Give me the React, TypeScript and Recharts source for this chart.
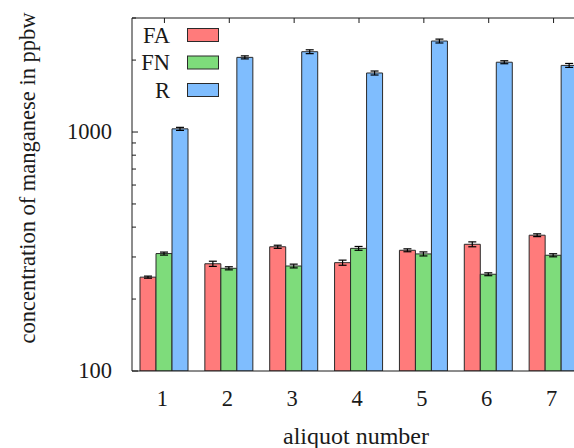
import { BarChart, Bar, XAxis, YAxis, ErrorBar, Legend } from "recharts"

const aliquots = ["1", "2", "3", "4", "5", "6", "7"]
const fa = [247, 281, 331, 284, 320, 339, 370]
const faErr = [2.5, 7, 5, 7, 4.5, 8, 5]
const fn = [310, 269, 275, 326, 309, 254, 305]
const fnErr = [4.5, 4, 5, 6, 6, 3.5, 4.5]
const r = [1031, 2053, 2168, 1766, 2403, 1959, 1900]
const rErr = [15, 30, 40, 34, 45, 28, 36]

const yTicks = [100, 200, 300, 400, 500, 600, 700, 800, 900, 1000, 2000, 3000]
const yLabels = [100, 1000]

const series = [
  { key: "fa", name: "FA", color: "#ff7b7b" },
  { key: "fn", name: "FN", color: "#7edc7b" },
  { key: "r", name: "R", color: "#7fbdfe" },
]

const data = aliquots.map((name, i) => ({
  name,
  fa: fa[i],
  faErr: faErr[i],
  fn: fn[i],
  fnErr: fnErr[i],
  r: r[i],
  rErr: rErr[i],
}))

const font = "'Liberation Serif', 'Times New Roman', serif"
const ink = "#1a1a1a"

const YTick = (props: any) => {
  const { x, y, payload } = props
  const major = yLabels.includes(payload.value)
  return (
    <g>
      <line x1={x} y1={y} x2={x + (major ? 6 : 4)} y2={y} stroke={ink} strokeWidth={1} />
      {major && (
        <text x={x - 20} y={y + 7} textAnchor="end" fontFamily={font} fontSize={22.5} fill={ink}>
          {payload.value}
        </text>
      )}
    </g>
  )
}

const XTick = (props: any) => {
  const { x, y, payload } = props
  return (
    <text x={x - 2} y={y + 35} textAnchor="middle" fontFamily={font} fontSize={22.5} fill={ink}>
      {payload.value}
    </text>
  )
}

const TopTick = (props: any) => {
  const { x, y } = props
  return <line x1={x} y1={y} x2={x} y2={y + 5} stroke={ink} strokeWidth={1} />
}

const renderLegend = () => (
  <svg width={100} height={90}>
    {series.map((s, i) => {
      const cy = 17 + i * 27.5
      return (
        <g key={s.key}>
          <text x={38} y={cy + 7.5} textAnchor="end" fontFamily={font} fontSize={22.5} fill={ink}>
            {s.name}
          </text>
          <rect x={55.5} y={cy - 6.5} width={31} height={13} fill={s.color} stroke="#2a2a2a" strokeWidth={1} />
        </g>
      )
    })}
  </svg>
)

export default function App() {
  return (
    <div style={{ position: "absolute", left: 0, top: 0, width: 574, height: 448, overflow: "hidden", background: "#fff" }}>
      <BarChart
        width={600}
        height={448}
        data={data}
        margin={{ top: 0, right: 14, left: 0, bottom: 0 }}
        barCategoryGap={8}
        barGap={0}
      >
        <XAxis
          xAxisId="top"
          orientation="top"
          dataKey="name"
          height={18}
          tickSize={0}
          tickMargin={0}
          tick={<TopTick />}
          axisLine={{ stroke: ink }}
          tickLine={false}
        />
        <XAxis
          dataKey="name"
          height={77}
          tickSize={0}
          tickMargin={0}
          tick={<XTick />}
          axisLine={{ stroke: ink }}
          tickLine={false}
          label={{
            content: () => (
              <text x={356} y={444} textAnchor="middle" fontFamily={font} fontSize={24} fill={ink}>
                aliquot number
              </text>
            ),
          }}
        />
        <YAxis
          scale="log"
          domain={[100, 3000]}
          ticks={yTicks}
          allowDataOverflow
          width={132}
          tickSize={0}
          tickMargin={0}
          tick={<YTick />}
          axisLine={{ stroke: ink }}
          tickLine={false}
          interval={0}
          label={{
            content: () => (
              <text
                x={35}
                y={178}
                transform="rotate(-90 35 178)"
                textAnchor="middle"
                fontFamily={font}
                fontSize={22.5}
                fill={ink}
              >
                concentration of manganese in ppbw
              </text>
            ),
          }}
        />
        <Legend
          layout="vertical"
          align="center"
          verticalAlign="middle"
          content={renderLegend}
          wrapperStyle={{ left: 132, top: 18, width: 100, height: 90 }}
        />
        {series.map((s) => (
          <Bar key={s.key} dataKey={s.key} name={s.name} fill={s.color} stroke="#2a2a2a" strokeWidth={1} isAnimationActive={false}>
            <ErrorBar dataKey={s.key + "Err"} width={4} stroke="#000" strokeWidth={1.2} />
          </Bar>
        ))}
      </BarChart>
    </div>
  )
}
